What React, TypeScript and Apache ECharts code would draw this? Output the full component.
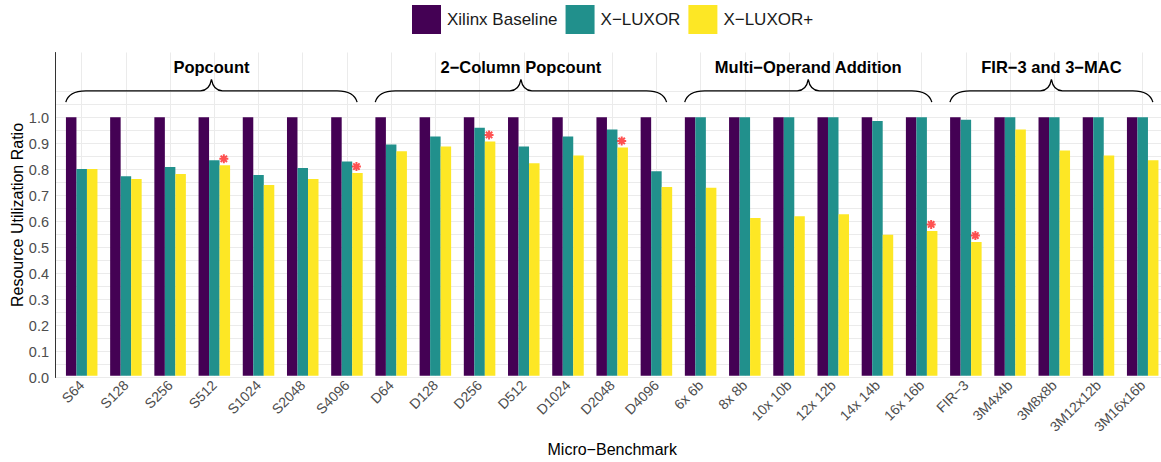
import React, { useEffect, useRef } from "react";
import * as echarts from "echarts";

const categories = [
  "S64", "S128", "S256", "S512", "S1024", "S2048", "S4096",
  "D64", "D128", "D256", "D512", "D1024", "D2048", "D4096",
  "6x 6b", "8x 8b", "10x 10b", "12x 12b", "14x 14b", "16x 16b",
  "FIR\u22123", "3M4x4b", "3M8x8b", "3M12x12b", "3M16x16b",
];
const seriesNames = ["Xilinx Baseline", "X\u2212LUXOR", "X\u2212LUXOR+"];
const baseline = [
  1, 1, 1, 1, 1, 1, 1,
  1, 1, 1, 1, 1, 1, 1,
  1, 1, 1, 1, 1, 1,
  1, 1, 1, 1, 1,
];
const xluxor = [
  0.8, 0.772, 0.807, 0.833, 0.776, 0.803, 0.829,
  0.894, 0.925, 0.959, 0.887, 0.925, 0.952, 0.791,
  1.0, 1.0, 1.0, 1.0, 0.985, 1.0,
  0.99, 1.0, 1.0, 1.0, 1.0,
];
const xluxorPlus = [
  0.8, 0.761, 0.78, 0.814, 0.738, 0.761, 0.784,
  0.868, 0.887, 0.906, 0.822, 0.852, 0.883, 0.73,
  0.727, 0.61, 0.617, 0.625, 0.545, 0.56,
  0.517, 0.952, 0.871, 0.852, 0.833,
];
const starred = ["S512", "S4096", "D256", "D2048", "16x 16b", "FIR\u22123"];
const groupLabels = ["Popcount", "2\u2212Column Popcount", "Multi\u2212Operand Addition", "FIR\u22123 and 3\u2212MAC"];
const groupFirst = ["S64", "D64", "6x 6b", "FIR\u22123"];
const groupLast = ["S4096", "D4096", "16x 16b", "3M16x16b"];
const yTickLabels = ["0.0", "0.1", "0.2", "0.3", "0.4", "0.5", "0.6", "0.7", "0.8", "0.9", "1.0"];

const colors = ["#440154", "#21908C", "#FDE725"];
const FONT = "Liberation Sans, Arial, sans-serif";

const STAR_PATH =
  "path://M4,0L4,8M0,4L8,4M1.17,1.17L6.83,6.83M1.17,6.83L6.83,1.17";

export default function App() {
  const ref = useRef<HTMLDivElement>(null);
  useEffect(() => {
    if (!ref.current) return;
    const chart = echarts.init(ref.current, undefined, { renderer: "svg" });

    const starData = starred.map((c) => {
      const i = categories.indexOf(c);
      return [i, xluxorPlus[i]];
    });
    const braceData = groupFirst.map((c, g) => [
      categories.indexOf(c),
      categories.indexOf(groupLast[g]),
    ]);

    const option: any = {
      animation: false,
      textStyle: { fontFamily: FONT },
      legend: {
        data: seriesNames,
        left: 412,
        top: 5,
        padding: 0,
        itemWidth: 29,
        itemHeight: 29,
        itemGap: 8,
        icon: "rect",
        textStyle: { fontSize: 17, color: "#1a1a1a", fontFamily: FONT, padding: [0, 0, 0, 1] },
      },
      grid: [
        { left: 55, right: 0, top: 91.5, bottom: 84.5 },
        { left: 55, right: 0, top: 52.5, bottom: 84.5 },
        { left: 81.7, right: 18.3, top: 52.5, bottom: 84.5 },
      ],
      xAxis: [
        { gridIndex: 0, type: "value", show: false, min: 0, max: 1 },
        { gridIndex: 1, type: "value", show: false, min: 0, max: 1 },
        {
          gridIndex: 2,
          type: "category",
          data: categories,
          boundaryGap: false,
          axisLine: { show: false },
          axisTick: { show: false },
          splitLine: { show: true, lineStyle: { color: "#ebebeb", width: 1 } },
          axisLabel: {
            rotate: 45,
            color: "#4d4d4d",
            fontSize: 14,
            margin: 7,
            interval: 0,
            fontFamily: FONT,
          },
          name: "Micro\u2212Benchmark",
          nameLocation: "middle",
          nameGap: 63,
          nameTextStyle: { fontSize: 16, color: "#000", fontFamily: FONT, verticalAlign: "top" },
        },
      ],
      yAxis: [
        {
          gridIndex: 0,
          type: "value",
          min: 0,
          max: 1.1,
          interval: 0.05,
          axisLine: { show: false },
          axisTick: { show: false },
          splitLine: { show: true, lineStyle: { color: "#ebebeb", width: 1 } },
          axisLabel: {
            color: "#4d4d4d",
            fontSize: 14.5,
            margin: 6,
            fontFamily: FONT,
            formatter: (v: number) => {
              const k = Math.round(v * 100);
              return k % 10 === 0 && k <= 100 ? yTickLabels[k / 10] : "";
            },
          },
        },
        {
          gridIndex: 1,
          type: "value",
          min: 0,
          max: 1.25,
          axisLine: { show: true, lineStyle: { color: "#333", width: 1 } },
          axisTick: { show: false },
          axisLabel: { show: false },
          splitLine: { show: false },
          name: "Resource Utilization Ratio",
          nameLocation: "middle",
          nameGap: 30,
          nameTextStyle: { fontSize: 16, color: "#000", fontFamily: FONT },
        },
        {
          gridIndex: 2,
          type: "value",
          min: 0,
          max: 1.25,
          show: false,
        },
      ],
      series: [
        ...[baseline, xluxor, xluxorPlus].map((d, k) => ({
          type: "bar",
          name: seriesNames[k],
          xAxisIndex: 2,
          yAxisIndex: 2,
          data: d,
          barGap: "0%",
          barCategoryGap: "28.7%",
          itemStyle: { color: colors[k] },
        })),
        {
          type: "scatter",
          xAxisIndex: 2,
          yAxisIndex: 2,
          data: starData,
          symbol: STAR_PATH,
          symbolSize: 9,
          symbolOffset: [9.5, -6.5],
          itemStyle: { color: "transparent", borderColor: "rgba(255,0,0,0.85)", borderWidth: 2 },
          z: 5,
        },
        {
          type: "custom",
          xAxisIndex: 2,
          yAxisIndex: 2,
          data: braceData,
          clip: false,
          z: 5,
          renderItem: (params: any, api: any) => {
            const g = params.dataIndex;
            const band = api.size([1, 0])[0];
            const ps = api.coord([api.value(0), 1.058]);
            const pe = api.coord([api.value(1), 1.058]);
            const x0 = ps[0] - 0.36 * band;
            const x1 = pe[0] + 0.23 * band;
            const yTip = ps[1];
            const yMid = api.coord([api.value(0), 1.102])[1];
            const yPeak = api.coord([api.value(0), 1.146])[1];
            const yLab = api.coord([api.value(0), 1.194])[1];
            const xm = (x0 + x1) / 2;
            const r = 20;
            const ri = 11;
            const d =
              `M${x0},${yTip} Q${x0 + 3},${yMid} ${x0 + r},${yMid} ` +
              `L${xm - ri},${yMid} Q${xm - 2},${yMid} ${xm},${yPeak} ` +
              `Q${xm + 2},${yMid} ${xm + ri},${yMid} ` +
              `L${x1 - r},${yMid} Q${x1 - 3},${yMid} ${x1},${yTip}`;
            return {
              type: "group",
              children: [
                {
                  type: "path",
                  shape: { pathData: d },
                  style: { fill: "none", stroke: "#000", lineWidth: 1.3 },
                },
                {
                  type: "text",
                  x: xm,
                  y: yLab,
                  style: {
                    text: groupLabels[g],
                    align: "center",
                    verticalAlign: "middle",
                    fontSize: 16.5,
                    fontWeight: "bold",
                    fontFamily: FONT,
                    fill: "#000",
                  },
                },
              ],
            };
          },
        },
      ],
    };
    chart.setOption(option);
    return () => chart.dispose();
  }, []);
  return (
    <div
      ref={ref}
      style={{ position: "absolute", left: 0, top: 0, width: 1161, height: 462 }}
    />
  );
}
